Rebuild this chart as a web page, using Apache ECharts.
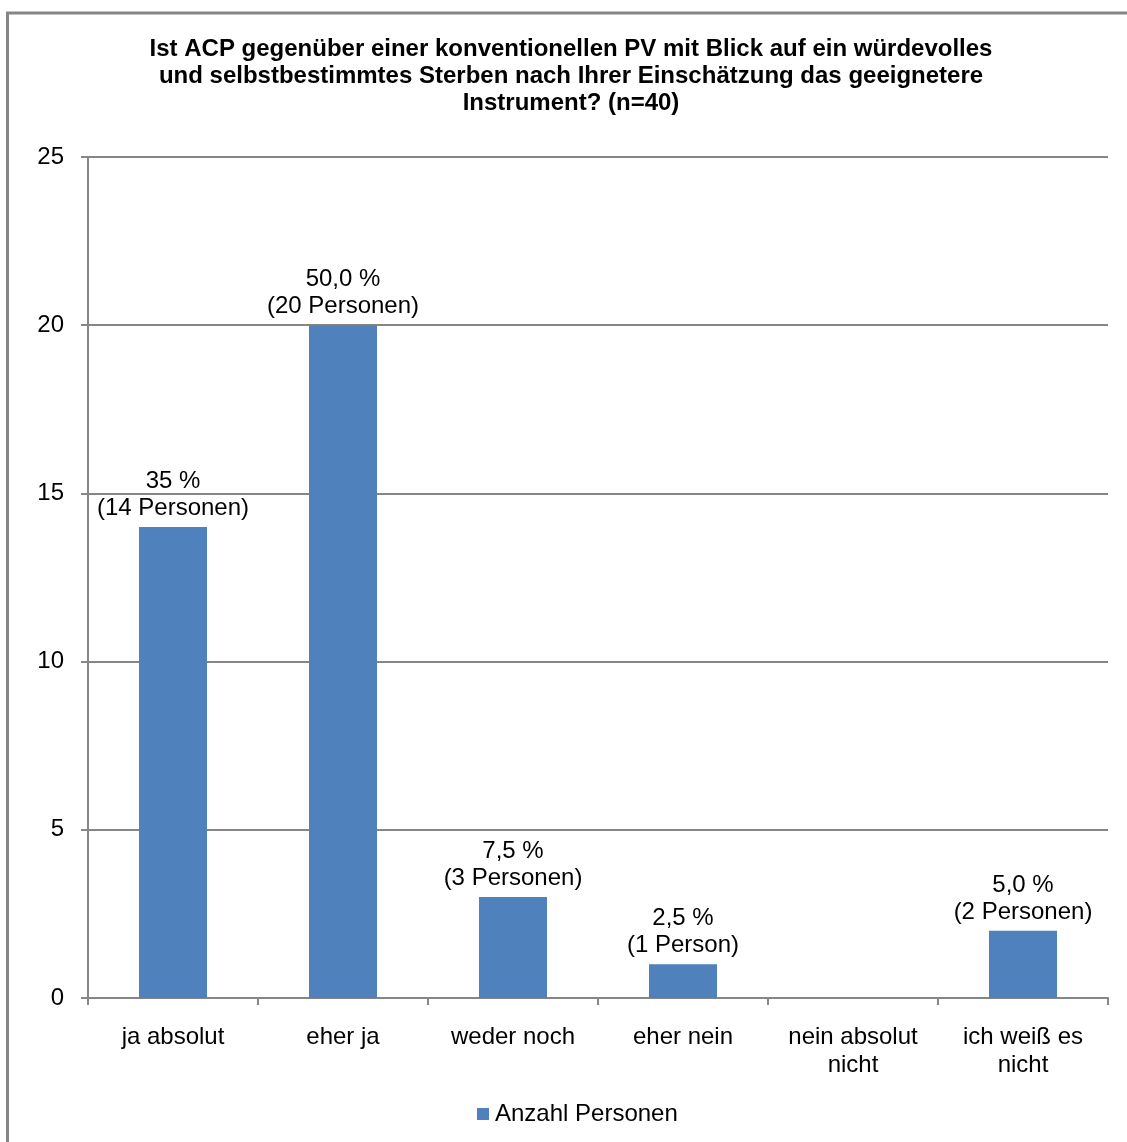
<!DOCTYPE html>
<html>
<head>
<meta charset="utf-8">
<script src="https://cdn.jsdelivr.net/npm/echarts@6/dist/echarts.min.js"></script>
<style>
    html, body { margin: 0; padding: 0; background: #fff; }
    #chart { width: 1127px; height: 1142px; }
</style>
</head>
<body>
<div id="chart"></div>
<script>
var titleText = "Ist ACP gegenüber einer konventionellen PV mit Blick auf ein würdevolles\nund selbstbestimmtes Sterben nach Ihrer Einschätzung das geeignetere\nInstrument? (n=40)";
var categories = ["ja absolut", "eher ja", "weder noch", "eher nein", "nein absolut\nnicht", "ich weiß es\nnicht"];
var personen = [14, 20, 3, 1, 0, 2];
var barLabels = ["35 %\n(14 Personen)", "50,0 %\n(20 Personen)", "7,5 %\n(3 Personen)", "2,5 %\n(1 Person)", "", "5,0 %\n(2 Personen)"];
var seriesName = "Anzahl Personen";

var gray = "#868686";
var font = "Liberation Sans, Arial, sans-serif";

var myChart = echarts.init(document.getElementById("chart"));

var option = {
    animation: false,
    textStyle: { fontFamily: font },
    title: {
        text: titleText,
        left: 566,
        top: 31,
        textAlign: "center",
        textStyle: {
            fontFamily: font,
            fontSize: 24,
            fontWeight: "bold",
            color: "#000",
            lineHeight: 27
        }
    },
    // Rahmen um das Diagramm
    graphic: [{
        type: "rect",
        shape: { x: 7.5, y: 13, width: 1300, height: 1300 },
        style: { fill: "none", stroke: gray, lineWidth: 3 }
    }],
    legend: {
        data: [seriesName],
        bottom: 11,
        left: 472,
        icon: "rect",
        itemWidth: 12,
        itemHeight: 12,
        itemGap: 4,
        textStyle: { fontFamily: font, fontSize: 24, color: "#000", padding: [0, 0, 0, 1] }
    },
    grid: {
        left: 88,
        right: 19,
        top: 157,
        bottom: 144,
        containLabel: false
    },
    xAxis: {
        type: "category",
        data: categories,
        axisLine: { lineStyle: { color: gray, width: 2 } },
        axisTick: { show: true, length: 7, lineStyle: { color: gray, width: 2 } },
        axisLabel: {
            color: "#000",
            fontFamily: font,
            fontSize: 24,
            lineHeight: 28,
            margin: 25,
            interval: 0
        }
    },
    yAxis: {
        type: "value",
        min: 0,
        max: 25,
        interval: 5,
        axisLine: { show: true, lineStyle: { color: gray, width: 2 } },
        axisTick: { show: true, length: 7, lineStyle: { color: gray, width: 2 } },
        axisLabel: { color: "#000", fontFamily: font, fontSize: 24, margin: 24 },
        splitLine: { lineStyle: { color: gray, width: 2 } }
    },
    series: [{
        name: seriesName,
        type: "bar",
        data: personen,
        barWidth: "40%",
        itemStyle: { color: "#4F81BD" },
        label: {
            show: true,
            position: "top",
            distance: 5,
            color: "#000",
            fontFamily: font,
            fontSize: 24,
            lineHeight: 27,
            formatter: function (p) {
                return barLabels[p.dataIndex];
            }
        }
    }]
};

myChart.setOption(option);
</script>
</body>
</html>
